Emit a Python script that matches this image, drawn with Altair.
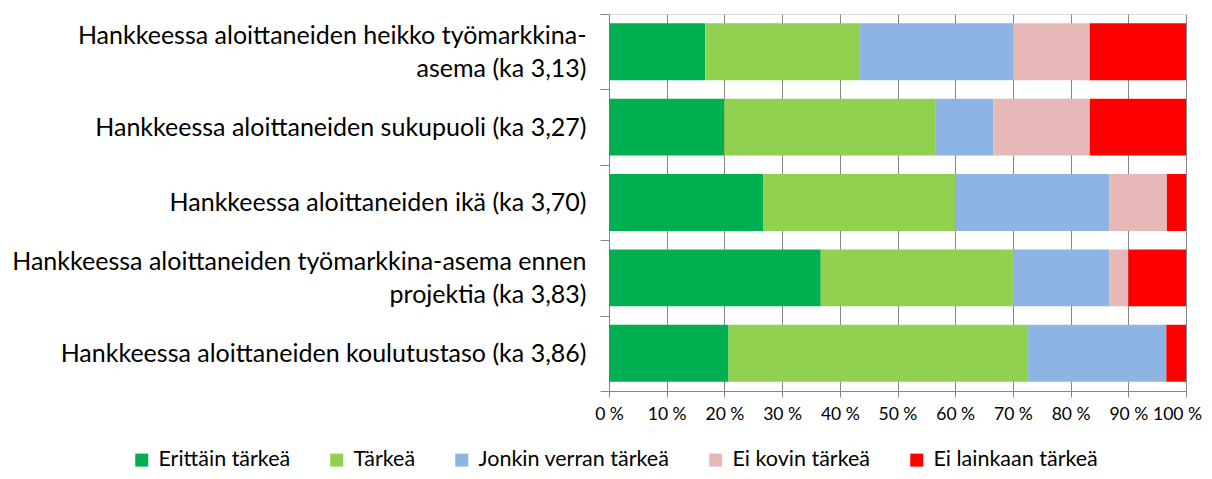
import altair as alt
import pandas as pd

categories = [
    "Hankkeessa aloittaneiden heikko työmarkkina-|asema  (ka 3,13)",
    "Hankkeessa aloittaneiden sukupuoli (ka 3,27)",
    "Hankkeessa aloittaneiden ikä (ka 3,70)",
    "Hankkeessa aloittaneiden työmarkkina-asema ennen|projektia (ka 3,83)",
    "Hankkeessa aloittaneiden koulutustaso (ka 3,86)",
]
series = ["Erittäin tärkeä", "Tärkeä", "Jonkin verran tärkeä", "Ei kovin tärkeä", "Ei lainkaan tärkeä"]
colors = ["#00B050", "#92D050", "#8EB4E3", "#E6B9B8", "#FF0000"]

erittain = [16.7, 20.0, 26.7, 36.7, 20.7]
tarkea = [26.7, 36.7, 33.3, 33.3, 51.7]
jonkin = [26.7, 10.0, 26.7, 16.7, 24.1]
ei_kovin = [13.3, 16.7, 10.0, 3.3, 0.0]
ei_lainkaan = [16.7, 16.7, 3.3, 10.0, 3.4]

values = [erittain, tarkea, jonkin, ei_kovin, ei_lainkaan]
rows = []
for si, s in enumerate(series):
    for ci, c in enumerate(categories):
        rows.append({"category": c, "series": s, "value": values[si][ci], "order": si})
df = pd.DataFrame(rows)

FONT = "Lato"

chart = alt.Chart(df).mark_bar(height={"band": 0.755}).encode(
    y=alt.Y("category:N", sort=categories, title=None,
            scale=alt.Scale(paddingInner=0, paddingOuter=0),
            axis=alt.Axis(tickBand="extent", labelExpr="split(datum.label, '|')",
                          labelOffset={"expr": "indexof(datum.label, '|') >= 0 ? -16 : 0"},
                          labelFontSize=25, labelFont=FONT, labelColor="#000000",
                          labelLineHeight=33, labelPadding=14, tickSize=9,
                          tickColor="#868686", domainColor="#868686",
                          labelLimit=700, grid=False)),
    x=alt.X("value:Q", stack="normalize", title=None,
            scale=alt.Scale(domain=[0, 1], nice=False),
            axis=alt.Axis(values=[i / 10 for i in range(11)],
                          labelExpr="round(datum.value*100) + ' %'",
                          labelOffset={"expr": "datum.value >= 0.999 ? -9 : 0"},
                          labelFontSize=17.5, labelFont=FONT, labelColor="#000000",
                          labelPadding=8, tickSize=6, tickColor="#868686",
                          domainColor="#868686", grid=True, gridColor="#868686",
                          gridWidth=1, gridOpacity=1, labelFlush=False)),
    color=alt.Color("series:N", sort=series,
                    scale=alt.Scale(domain=series, range=colors),
                    legend=alt.Legend(title=None, orient="none", direction="horizontal",
                                      legendX=-478, legendY=435,
                                      symbolType="square", symbolSize=169,
                                      symbolStrokeWidth=0, symbolOpacity=1,
                                      labelFontSize=21.5, labelFont=FONT,
                                      labelColor="#000000", columnPadding=35,
                                      labelOffset=6, labelLimit=400)),
    order=alt.Order("order:Q"),
).properties(
    width=577, height=377,
    autosize=alt.AutoSizeParams(type="none"),
    padding={"left": 601, "top": 6, "right": 18, "bottom": 80},
).configure_view(stroke=None).configure(background="white")

chart.save("out.html", embed_options={"renderer": "svg", "actions": False})
